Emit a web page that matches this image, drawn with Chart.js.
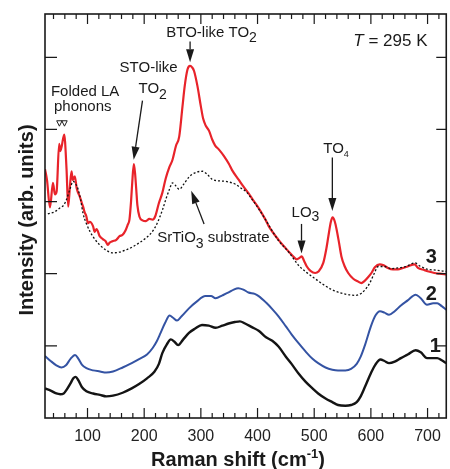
<!DOCTYPE html>
<html><head><meta charset="utf-8">
<script src="https://cdn.jsdelivr.net/npm/chart.js@4/dist/chart.umd.min.js"></script>
<style>html,body{margin:0;padding:0;background:#fff}canvas{display:block}</style>
</head><body>
<canvas id="c" width="450" height="469"></canvas>
<script>
// ---- data (Raman shift in cm^-1, intensity in arb. units, offset curves) ----
const xTickLabels = [100, 200, 300, 400, 500, 600, 700];
const xMinorTicks = [40,60,80,100,120,140,160,180,200,220,240,260,280,300,320,340,360,380,400,420,440,460,480,500,520,540,560,580,600,620,640,660,680,700,720];
const yTicks = [1, 2, 3, 4, 5];

const curve1Shift = [25,35,45,52,58,63,70,75,79,84,90,98,110,122,133,145,162,178,191,205,218,226,232,240,247,253,260,268,279,290,302,314,326,338,349,360,369,378,390,402,415,426,437,450,460,472,485,497,507,520,532,542,555,565,575,582,590,600,608,617,624,632,642,653,665,679,688,699,710,717,725,733];
const curve1Intensity = [0.41,0.38,0.34,0.33,0.34,0.39,0.48,0.55,0.57,0.52,0.43,0.37,0.34,0.32,0.30,0.31,0.35,0.41,0.47,0.55,0.64,0.75,0.90,1.02,1.09,1.06,1.01,1.08,1.18,1.24,1.29,1.28,1.25,1.28,1.31,1.33,1.34,1.31,1.26,1.21,1.12,1.07,0.99,0.85,0.75,0.62,0.50,0.41,0.34,0.27,0.22,0.18,0.17,0.18,0.22,0.30,0.44,0.62,0.74,0.81,0.79,0.76,0.78,0.83,0.88,0.94,0.91,0.83,0.83,0.83,0.80,0.76];

const curve2Shift = [25,35,45,54,62,70,78,84,90,98,110,122,133,145,162,178,191,205,215,222,229,237,245,251,258,266,279,292,308,318,326,338,349,358,366,375,384,395,402,415,426,437,450,460,472,485,497,507,520,532,542,555,565,575,582,590,600,608,616,624,632,642,653,665,679,688,699,710,717,725,733];
const curve2Intensity = [0.86,0.79,0.73,0.70,0.73,0.82,0.875,0.82,0.74,0.69,0.66,0.645,0.63,0.645,0.70,0.76,0.815,0.88,0.97,1.06,1.18,1.32,1.42,1.39,1.35,1.41,1.52,1.61,1.69,1.69,1.66,1.70,1.74,1.78,1.80,1.78,1.74,1.72,1.69,1.60,1.51,1.41,1.27,1.16,1.04,0.92,0.82,0.76,0.70,0.67,0.66,0.66,0.68,0.75,0.85,1.02,1.27,1.42,1.48,1.46,1.43,1.48,1.56,1.63,1.71,1.66,1.57,1.59,1.59,1.55,1.50];

const curve3Shift = [25,28.5,33.8,39,42.5,45.5,50,52,54.3,58.9,63,65.9,68.9,71.8,74,77.6,81,86.4,90,92.2,95,97.8,101,104,109.7,112.7,116,121.5,127,132,136,139,144,150.8,156.6,162,167,171,174,176.8,178.9,181.7,183.8,186,188,191.7,197,203,209,215,219.7,226,232,238,244.6,250,256,261.8,267.6,271.5,276.4,281,284.6,288,294,300,304,308.7,314.5,320,325,332,340.8,349.6,354.8,367,373,384.6,390.4,402,414,419.7,437,447.8,460.6,469.4,474,478,482,487,493.4,501.7,507.5,516,521.5,525,529.4,532.5,536.4,539.6,544,548,553.9,560,568.9,577.6,583,589,595,601,607,615.7,621.5,630,639,647.8,656.6,665,677,683,694.6,702,712,721.5,733];
const curve3Intensity = [3.45,3.30,2.92,3.26,3.10,3.14,3.80,3.70,3.76,3.93,3.45,2.93,3.20,3.42,3.30,3.35,3.18,3.07,2.98,2.93,2.85,2.80,2.70,2.72,2.66,2.58,2.62,2.52,2.48,2.45,2.40,2.43,2.45,2.47,2.52,2.54,2.60,2.68,2.75,3.00,3.26,3.52,3.40,3.17,2.95,2.79,2.74,2.73,2.76,2.75,2.80,2.98,3.12,3.32,3.48,3.58,3.77,3.90,4.32,4.60,4.83,4.88,4.86,4.81,4.60,4.32,4.15,4.05,3.98,3.86,3.78,3.72,3.63,3.52,3.44,3.30,3.23,3.11,3.04,2.91,2.75,2.66,2.47,2.37,2.26,2.20,2.22,2.24,2.18,2.10,2.04,2.01,2.03,2.15,2.35,2.52,2.72,2.78,2.72,2.61,2.42,2.24,2.10,2.01,1.93,1.89,1.87,1.90,1.95,2.01,2.09,2.13,2.12,2.08,2.06,2.06,2.08,2.10,2.13,2.08,2.05,2.03,2.01,2.00,1.99];

const substrateShift = [30,42.5,51,58,63,69,74.6,79.4,83.4,88,92,97.8,104,112.7,121.5,132,144.8,156.6,168,179,191.7,204,215,223,232.5,239,244.6,250,256.6,261.8,270.6,279,285,293.4,302.7,311,319.7,328.5,343.8,361,372,381,390.4,402,414,437,455,472,486,501.7,516,530.8,544,560,572,583.4,590,598,605.7,612.9,624.5,636,647.8,662,677,688,700.4,714.5,733];
const substrateIntensity = [2.83,2.86,2.91,2.95,3.03,3.17,3.28,3.24,3.17,3.02,2.84,2.70,2.59,2.48,2.40,2.33,2.29,2.30,2.33,2.37,2.43,2.50,2.59,2.70,2.89,3.05,3.17,3.26,3.21,3.17,3.25,3.34,3.38,3.41,3.42,3.38,3.31,3.29,3.28,3.24,3.18,3.13,3.03,2.90,2.75,2.46,2.30,2.12,2.02,1.93,1.85,1.78,1.74,1.71,1.70,1.73,1.78,1.87,2.00,2.10,2.10,2.07,2.08,2.10,2.15,2.10,2.06,2.05,2.03];

const toXY = (xs, ys) => xs.map((v, i) => ({x: v, y: ys[i]}));

const FONT = '"Liberation Sans", Arial, Helvetica, sans-serif';
function rich(ctx, x, y, segs) {
  let cx = x;
  for (const s of segs) {
    ctx.font = s.f;
    ctx.fillText(s.t, cx, y + (s.dy || 0));
    cx += ctx.measureText(s.t).width;
  }
}
function richWidth(ctx, segs) {
  let w = 0;
  for (const s of segs) { ctx.font = s.f; w += ctx.measureText(s.t).width; }
  return w;
}
function arrow(ctx, x1, y1, x2, y2) {
  const L = 13, W = 4;
  const ang = Math.atan2(y2 - y1, x2 - x1);
  const bx = x2 - L * Math.cos(ang), by = y2 - L * Math.sin(ang);
  ctx.beginPath(); ctx.moveTo(x1, y1); ctx.lineTo(bx, by); ctx.stroke();
  ctx.beginPath();
  ctx.moveTo(x2, y2);
  ctx.lineTo(bx + W * Math.sin(ang), by - W * Math.cos(ang));
  ctx.lineTo(bx - W * Math.sin(ang), by + W * Math.cos(ang));
  ctx.closePath(); ctx.fill();
}

const decor = {
  id: 'decor',
  afterDraw(chart) {
    const {ctx, chartArea: a, scales: {x, y}} = chart;
    const X = v => x.getPixelForValue(v), Y = v => y.getPixelForValue(v);
    ctx.save();
    ctx.strokeStyle = '#1a1a1a'; ctx.fillStyle = '#1a1a1a';
    // ticks
    ctx.lineWidth = 1.2;
    ctx.beginPath();
    for (const v of xMinorTicks) {
      const p = X(v), L = (v % 100 === 0) ? 10 : 5;
      ctx.moveTo(p, a.bottom); ctx.lineTo(p, a.bottom - L);
      ctx.moveTo(p, a.top); ctx.lineTo(p, a.top + L);
    }
    for (const v of yTicks) {
      const p = Y(v);
      ctx.moveTo(a.left, p); ctx.lineTo(a.left + 12, p);
      ctx.moveTo(a.right, p); ctx.lineTo(a.right - 10, p);
    }
    ctx.stroke();
    // frame
    ctx.lineWidth = 1.6;
    ctx.strokeRect(a.left, a.top, a.right - a.left, a.bottom - a.top);

    // annotations
    const f15 = '15px ' + FONT, f14 = '14px ' + FONT, f9 = '9px ' + FONT;
    ctx.textBaseline = 'alphabetic'; ctx.textAlign = 'left';
    rich(ctx, X(239), Y(5.28), [{t: 'BTO-like TO', f: f15}, {t: '2', f: f14, dy: 5}]);
    rich(ctx, X(569), Y(5.15), [{t: 'T', f: 'italic 17px ' + FONT}, {t: ' = 295 K', f: '17px ' + FONT}]);
    rich(ctx, X(156.6), Y(4.79), [{t: 'STO-like', f: f15}]);
    rich(ctx, X(190), Y(4.51), [{t: 'TO', f: f15}, {t: '2', f: f14, dy: 6}]);
    rich(ctx, X(35.5), Y(4.47), [{t: 'Folded LA', f: f15}]);
    rich(ctx, X(40.8), Y(4.26), [{t: 'phonons', f: f15}]);
    rich(ctx, X(223), Y(2.44), [{t: 'SrTiO', f: f15}, {t: '3', f: f14, dy: 6}, {t: ' substrate', f: f15}]);
    rich(ctx, X(460), Y(2.79), [{t: 'LO', f: f15}, {t: '3', f: f14, dy: 4}]);
    rich(ctx, X(516), Y(3.68), [{t: 'TO', f: f15}, {t: '4', f: f9, dy: 4}]);
    ctx.font = 'bold 20px ' + FONT;
    ctx.fillText('3', X(697), Y(2.15));
    ctx.fillText('2', X(697), Y(1.64));
    ctx.fillText('1', X(704), Y(0.92));

    // open triangles (folded LA phonons)
    ctx.lineWidth = 1;
    for (const v of [50.4, 59.4]) {
      const cx = X(v), t = Y(4.12), b = Y(4.045);
      ctx.beginPath(); ctx.moveTo(cx - 2.7, t); ctx.lineTo(cx + 2.7, t); ctx.lineTo(cx, b); ctx.closePath(); ctx.stroke();
    }

    // arrows
    ctx.lineWidth = 1.3;
    arrow(ctx, X(281), Y(5.22), X(281), Y(4.93));
    arrow(ctx, X(197), Y(4.40), X(181.5), Y(3.58));
    arrow(ctx, X(305.7), Y(2.69), X(283), Y(3.15));
    arrow(ctx, X(477.6), Y(2.69), X(477.6), Y(2.28));
    arrow(ctx, X(532), Y(3.61), X(532), Y(2.87));

    // axis titles
    ctx.fillStyle = '#1a1a1a';
    const fb = 'bold 20px ' + FONT, fsup = 'bold 13px ' + FONT;
    const segs = [{t: 'Raman shift (cm', f: fb}, {t: '-1', f: fsup, dy: -8}, {t: ')', f: fb}];
    const w = richWidth(ctx, segs);
    rich(ctx, 238 - w / 2, 466, segs);
    ctx.save();
    ctx.translate(33, 220);
    ctx.rotate(-Math.PI / 2);
    ctx.textAlign = 'center';
    ctx.font = fb;
    ctx.fillText('Intensity (arb. units)', 0, 0);
    ctx.restore();
    ctx.restore();
  }
};

new Chart(document.getElementById('c'), {
  type: 'line',
  data: {
    datasets: [
      {data: toXY(substrateShift, substrateIntensity), borderColor: '#111', borderWidth: 1.3, borderDash: [2, 2]},
      {data: toXY(curve3Shift, curve3Intensity), borderColor: '#e8232a', borderWidth: 2.2},
      {data: toXY(curve2Shift, curve2Intensity), borderColor: '#3453a3', borderWidth: 2},
      {data: toXY(curve1Shift, curve1Intensity), borderColor: '#141414', borderWidth: 2.4}
    ]
  },
  options: {
    responsive: false,
    animation: false,
    devicePixelRatio: 1,
    layout: {padding: {top: 14, right: 2, left: 0, bottom: 0}},
    elements: {point: {radius: 0}, line: {cubicInterpolationMode: 'monotone', fill: false}},
    plugins: {legend: {display: false}, tooltip: {enabled: false}},
    scales: {
      x: {
        type: 'linear', position: 'bottom', min: 25, max: 733,
        grid: {display: false, drawTicks: false}, border: {display: false},
        afterBuildTicks: s => { s.ticks = xTickLabels.map(v => ({value: v})); },
        ticks: {padding: 9, color: '#222', font: {size: 16, family: FONT}},
        afterFit: s => { s.height = 51; }
      },
      y: {
        type: 'linear', min: 0, max: 5.6,
        grid: {display: false, drawTicks: false}, border: {display: false},
        ticks: {display: false},
        afterFit: s => { s.width = 45; }
      }
    }
  },
  plugins: [decor]
});
</script>
</body></html>
